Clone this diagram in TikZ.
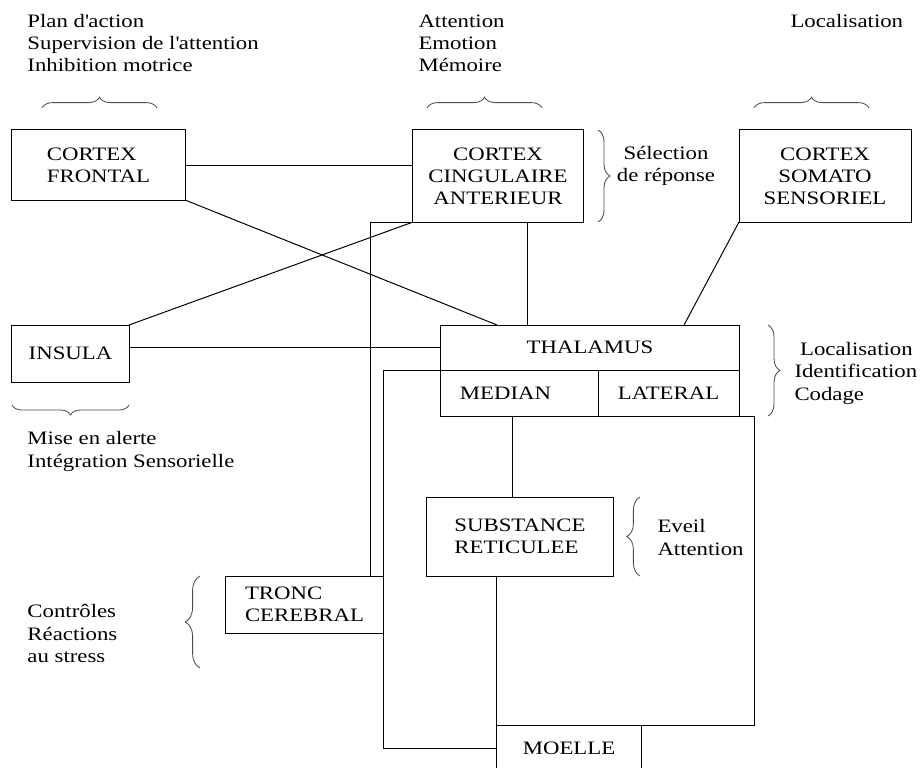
\documentclass[tikz,border=0pt]{standalone}
\usepackage{fontspec}
\setmainfont[FakeStretch=1.2]{Liberation Serif}
\usetikzlibrary{positioning,calc,decorations.pathreplacing}

\begin{document}
\begin{tikzpicture}[x=0.025cm, y=-0.025cm, line width=0.7pt,
    every node/.style={font=\fontsize{13.5}{15.65}\selectfont},
    box/.style={draw, outer sep=0pt, inner sep=2pt, align=center},
    note/.style={align=left, inner sep=0pt, anchor=base west},
    brc/.style={decorate, decoration={brace, amplitude=#1}, draw=black!70, line width=0.6pt}]
  \useasboundingbox (0,0) rectangle (924,767);
  \clip (0,0) rectangle (924,767);

  % boxes
  \node[box, align=left, minimum width=4.325cm, minimum height=1.75cm] (frontal) at (98.5,165) {CORTEX\\FRONTAL};
  \node[box, minimum width=4.25cm, minimum height=2.3cm]  (cing)  at (498,176) {CORTEX\\CINGULAIRE\\ANTERIEUR};
  \node[box, minimum width=4.3cm, minimum height=2.3cm]   (som)   at (825,176) {CORTEX\\SOMATO\\SENSORIEL};
  \node[box, minimum width=2.925cm, minimum height=1.425cm] (insula) at (70.5,353.5) {INSULA};
  \node[box, minimum width=7.45cm, minimum height=1.125cm] (thal) at (590,347.5) {THALAMUS};
  \node[box, align=left, inner xsep=0.475cm, text width=2.975cm, minimum height=1.15cm] (median) [below right=0pt and 0pt of thal.south west] {MEDIAN};
  \node[box, minimum width=3.525cm, minimum height=1.15cm] (lateral) [right=0pt of median] {LATERAL};
  \node[box, align=left, minimum width=4.65cm, minimum height=1.975cm] (sub) at (520,536.5) {SUBSTANCE\\RETICULEE};
  \node[box, align=left, minimum width=3.925cm, minimum height=1.425cm] (tronc) at (304.5,604.5) {TRONC\\CEREBRAL};
  \node[box, minimum width=3.6cm, minimum height=1.15cm] (moelle) at (569,748) {MOELLE};

  % texts (base = last line)
  \node[note] (planlbl)   at (27,72)   {Plan d\textquotesingle action\\Supervision de l\textquotesingle attention\\Inhibition motrice};
  \node[note] (cinglbl)   at (418,72)  {Attention\\Emotion\\Mémoire};
  \node[note] (somlbl)    at (790,28)  {Localisation};
  \node[note, align=center, anchor=base] (selectlbl) at (666,182) {Sélection\\de réponse};
  \node[note] (thallbl)   at (794,400) {\hspace*{4pt}Localisation\\Identification\\Codage};
  \node[note] (insulbl)   at (27,467)  {Mise en alerte\\Intégration Sensorielle};
  \node[note] (sublbl)    at (657,555) {Eveil\\Attention};
  \node[note] (tronclbl)  at (27,662)  {Contrôles\\Réactions\\au stress};

  % braces
  \draw[brc=0.27cm] (42,108) -- (157,108);
  \draw[brc=0.27cm] (427,108) -- (542,108);
  \draw[brc=0.27cm] (754,108) -- (869,108);
  \draw[brc=0.3cm] (598,130) -- (598,222);
  \draw[brc=0.3cm] (768,325) -- (768,416);
  \draw[brc=0.25cm] (129,405) -- (12,405);
  \draw[brc=0.33cm] (640,576) -- (640,497);
  \draw[brc=0.37cm] (200,668) -- (200,576);

  % connectors
  \draw (frontal.east) -- (frontal.east -| cing.west);
  \draw (frontal.south east) -- ($(thal.north west)+(56,0)$);
  \draw (insula.north east) -- (cing.south west);
  \draw (insula.east |- thal.west) -- (thal.west);
  \draw ($(cing.south)+(29,0)$) coordinate (cc) -- (cc |- thal.north);
  \draw (som.south west) -- ($(thal.north east)+(-55,0)$);
  \draw ($(sub.north)+(-8,0)$) coordinate (sc) -- (sc |- median.south);
  \draw (sub.south -| moelle.west) -- (moelle.north west);
  \draw (lateral.south east) -- ++(15,0) |- (moelle.north east);
  \draw (cing.south west) -| ($(tronc.north east)+(-13,0)$);
  \draw (median.north west) -| (tronc.east) |- (moelle.west);
\end{tikzpicture}
\end{document}
